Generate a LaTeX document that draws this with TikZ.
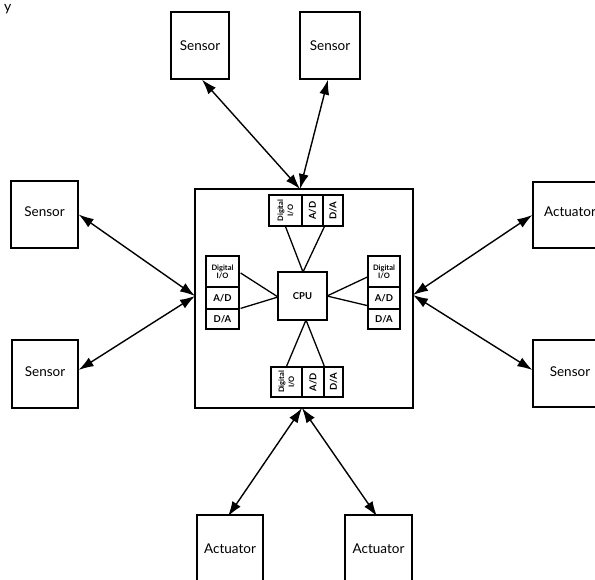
\documentclass[tikz,border=0pt]{standalone}
\usepackage{fontspec}
\setmainfont{Lato}
\usetikzlibrary{arrows.meta,calc}

\tikzset{
  unit/.style={draw, line width=1.3pt, inner sep=0pt, font=\fontsize{13.5}{15}\selectfont},
  cell/.style={draw, line width=1.2pt, inner sep=0pt, font=\bfseries\fontsize{9.5}{10}\selectfont},
  tinycell/.style={cell, align=center, font=\bfseries\fontsize{7.5}{8}\selectfont},
  link/.style={line width=1.3pt},
  bus/.style={line width=1.4pt, {Latex[length=15pt,width=10pt]}-{Latex[length=15pt,width=10pt]}},
}

\begin{document}
\begin{tikzpicture}[x=1pt, y=-1pt]
\useasboundingbox (0,0) rectangle (595,580);
\clip (0,0) rectangle (595,580);
\fill[white] (0,0) rectangle (595,580);

% stray glyph of the preceding caption line
\node[anchor=north west, inner sep=1pt, font=\fontsize{14}{14}\selectfont] (stray) at (3,3) {y};

% field devices
\node[unit, minimum width=58pt, minimum height=67pt] (s1) at (200,45.5) {Sensor};
\node[unit, minimum width=60pt, minimum height=67pt] (s2) at (330,45.5) {Sensor};
\node[unit, minimum width=67pt, minimum height=67pt] (s3) at (44.5,214.5) {\raisebox{6pt}{Sensor}};
\node[unit, minimum width=66pt, minimum height=68pt] (s4) at (45,374) {\raisebox{4pt}{Sensor}};
\node[unit, minimum width=68pt, minimum height=66pt] (a1) at (567,215) {\raisebox{7pt}{\hspace{6pt}Actuator}};
\node[unit, minimum width=68pt, minimum height=67pt] (s5) at (567,373.5) {\raisebox{4pt}{\hspace{6pt}Sensor}};
\node[unit, minimum width=66pt, minimum height=80pt] (a2) at (230,555) {\raisebox{12pt}{Actuator}};
\node[unit, minimum width=67pt, minimum height=80pt] (a3) at (378.5,555) {\raisebox{12pt}{Actuator}};

% controller enclosure and processor
\node[draw, line width=1.3pt, minimum width=218pt, minimum height=219pt] (mc) at (304,298.5) {};
\node[draw, line width=1.3pt, minimum width=49pt, minimum height=48pt, font=\bfseries\fontsize{9.5}{10}\selectfont] (cpu) at (302.5,296) {CPU};

% top I/O block
\node[tinycell, minimum width=33pt, minimum height=31pt] (tdio) at (285.5,210.5) {\rotatebox{90}{\shortstack{Digital\\I/O}}};
\node[cell, minimum width=21pt, minimum height=31pt] (tad) at (312.5,210.5) {\rotatebox{90}{A/D}};
\node[cell, minimum width=20pt, minimum height=31pt] (tda) at (333,210.5) {\rotatebox{90}{D/A}};

% bottom I/O block
\node[tinycell, minimum width=31pt, minimum height=30pt] (bdio) at (286.5,382) {\rotatebox{90}{\shortstack{Digital\\I/O}}};
\node[cell, minimum width=22pt, minimum height=30pt] (bad) at (313,382) {\rotatebox{90}{A/D}};
\node[cell, minimum width=19pt, minimum height=30pt] (bda) at (333.5,382) {\rotatebox{90}{D/A}};

% left I/O block
\node[tinycell, minimum width=33pt, minimum height=31pt] (ldio) at (222.5,271.5) {Digital\\I/O};
\node[cell, minimum width=33pt, minimum height=22pt] (lad) at (222.5,298) {A/D};
\node[cell, minimum width=33pt, minimum height=20pt] (lda) at (222.5,319) {D/A};

% right I/O block
\node[tinycell, minimum width=32pt, minimum height=31pt] (rdio) at (384,271.5) {Digital\\I/O};
\node[cell, minimum width=32pt, minimum height=22pt] (rad) at (384,298) {A/D};
\node[cell, minimum width=32pt, minimum height=20pt] (rda) at (384,319) {D/A};

% internal wiring to the processor
\coordinate (ct) at (303,272);
\coordinate (cb) at (306,320);
\coordinate (cl) at (278,297);
\coordinate (cr) at (327,296);
\draw[link] (tdio.south) -- (ct);
\draw[link] ($(tda.south west)+(2,0)$) -- (ct);
\draw[link] (bdio.north) -- (cb);
\draw[link] ($(bda.north west)+(1,0)$) -- (cb);
\draw[link] ($(ldio.east)+(1,1.5)$) -- (cl);
\draw[link] ($(lda.north east)+(1,0)$) -- (cl);
\draw[link] ($(rdio.west)+(0,5.5)$) -- (cr);
\draw[link] ($(rad.south west)+(0,-4)$) -- (cr);

% field connections
\coordinate (mtop) at (300,189);
\coordinate (mbot) at (302,408);
\coordinate (mleft) at (195,296);
\coordinate (mright) at (413,295);
\draw[bus] ($(s1.south)+(2,0)$) -- (mtop);
\draw[bus] ($(s2.south)+(-2,0)$) -- (mtop);
\draw[bus] (s3.east) -- (mleft);
\draw[bus] ($(s4.east)+(0,-4)$) -- (mleft);
\draw[bus] (a1.west) -- (mright);
\draw[bus] ($(s5.west)+(0,-3.5)$) -- (mright);
\draw[bus] ($(a2.north)+(-2,2)$) -- (mbot);
\draw[bus] ($(a3.north)+(-1.5,2)$) -- (mbot);
\end{tikzpicture}
\end{document}
